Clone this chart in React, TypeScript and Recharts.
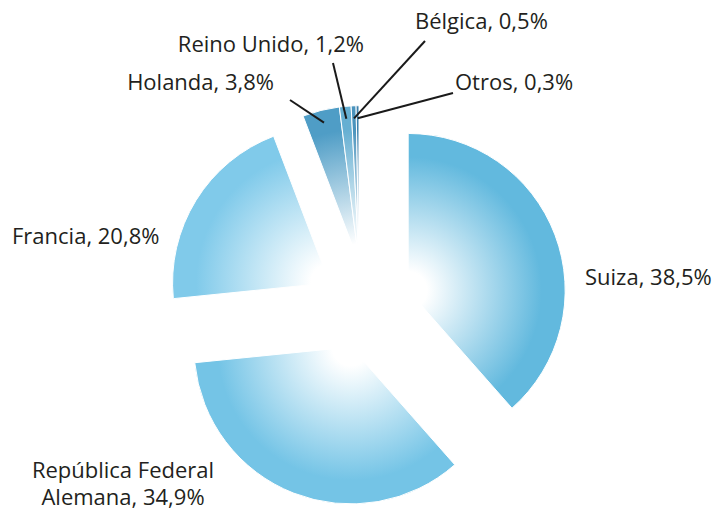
import { PieChart, Pie, Cell, Sector } from "recharts";

const countries = [
  "Suiza",
  "República Federal Alemana",
  "Francia",
  "Holanda",
  "Reino Unido",
  "Bélgica",
  "Otros",
];
const shares = [38.5, 34.9, 20.8, 3.8, 1.2, 0.5, 0.3];
const labelLines = [
  ["Suiza, 38,5%"],
  ["República Federal", "Alemana, 34,9%"],
  ["Francia, 20,8%"],
  ["Holanda, 3,8%"],
  ["Reino Unido, 1,2%"],
  ["Bélgica, 0,5%"],
  ["Otros, 0,3%"],
];
// slices sharing a number are pulled out together
const explodeGroup = [0, 1, 2, 3, 3, 3, 3];

const colors = ["#62b9de", "#74c4e6", "#80caea", "#4f9dc6", "#66afd2", "#4a93bd", "#3e82ad"];

// where each label sits, relative to the pie centre, plus optional leader start
const labelLayout = [
  { dx: 218, dy: -30, anchor: "start", lead: null },
  { dx: -244, dy: 176, anchor: "middle", lead: null },
  { dx: -355, dy: -71, anchor: "start", lead: null },
  { dx: -93, dy: -225, anchor: "end", lead: [-77, -206] },
  { dx: -3, dy: -263, anchor: "end", lead: [-34, -243] },
  { dx: 48, dy: -286, anchor: "start", lead: [58, -265] },
  { dx: 88, dy: -225, anchor: "start", lead: [86, -213] },
];

const data = countries.map((name, i) => ({ name, value: shares[i] }));

const EXPLODE = 44;
const RAD = Math.PI / 180;
const total = shares.reduce((a, b) => a + b, 0);

// mid angle (recharts degrees) of the group a slice belongs to
function groupMidAngle(i: number) {
  const g = explodeGroup[i];
  let start = -1;
  let end = 0;
  let acc = 0;
  shares.forEach((s, k) => {
    if (explodeGroup[k] === g) {
      if (start < 0) start = acc;
      end = acc + s;
    }
    acc += s;
  });
  return 90 - (360 * (start + end)) / 2 / total;
}

function explodeCenter(cx: number, cy: number, i: number) {
  const a = groupMidAngle(i);
  return { x: cx + EXPLODE * Math.cos(a * RAD), y: cy - EXPLODE * Math.sin(a * RAD) };
}

function ExplodedSector(props: any) {
  const { cx, cy, outerRadius, fill, payload } = props;
  const i = countries.indexOf(payload?.name ?? props.name);
  const c = explodeCenter(cx, cy, i);
  const id = `grad-${i}`;
  return (
    <g>
      <defs>
        <radialGradient id={id} gradientUnits="userSpaceOnUse" cx={c.x} cy={c.y} r={outerRadius}>
          <stop offset="0" stopColor="#ffffff" />
          <stop offset="0.12" stopColor="#ffffff" />
          <stop offset="0.85" stopColor={fill} />
          <stop offset="1" stopColor={fill} />
        </radialGradient>
      </defs>
      <Sector {...props} cx={c.x} cy={c.y} fill={`url(#${id})`} stroke="#ffffff" strokeWidth={1} />
    </g>
  );
}

function renderLabel(props: any) {
  const { cx, cy, midAngle, outerRadius, index } = props;
  const lay = labelLayout[index];
  const lines = labelLines[index];
  const x = cx + lay.dx;
  const y = cy + lay.dy;
  let leader = null;
  if (lay.lead) {
    const c = explodeCenter(cx, cy, index);
    const r = outerRadius * 0.92;
    leader = (
      <line
        x1={cx + lay.lead[0]}
        y1={cy + lay.lead[1]}
        x2={c.x + r * Math.cos(midAngle * RAD)}
        y2={c.y - r * Math.sin(midAngle * RAD)}
        stroke="#1a1a1a"
        strokeWidth={2}
      />
    );
  }
  return (
    <g key={`lab-${index}`}>
      {leader}
      <text
        x={x}
        y={y - ((lines.length - 1) * 27) / 2}
        textAnchor={lay.anchor}
        dominantBaseline="central"
        fill="#231f20"
        fontSize={22}
        fontFamily="'Open Sans', sans-serif"
      >
        {lines.map((t, k) => (
          <tspan key={k} x={x} dy={k === 0 ? 0 : 27}>
            {t}
          </tspan>
        ))}
      </text>
    </g>
  );
}

export default function App() {
  return (
    <div style={{ position: "absolute", left: 0, top: 0, width: 714, height: 511, background: "#fff" }}>
      <PieChart width={714} height={511}>
        <Pie
          data={data}
          dataKey="value"
          nameKey="name"
          cx={362}
          cy={301}
          outerRadius={157}
          startAngle={90}
          endAngle={-270}
          shape={ExplodedSector}
          label={renderLabel}
          labelLine={false}
          isAnimationActive={false}
        >
          {data.map((d, i) => (
            <Cell key={d.name} fill={colors[i]} />
          ))}
        </Pie>
      </PieChart>
    </div>
  );
}
